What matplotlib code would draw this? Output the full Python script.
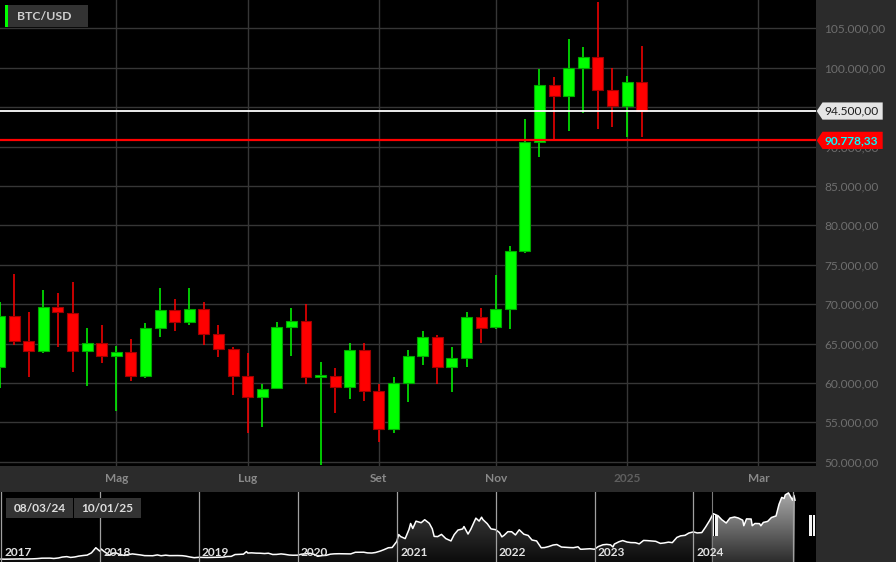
import numpy as np
import pandas as pd
import matplotlib
matplotlib.use("Agg")
import matplotlib.pyplot as plt
from matplotlib.patches import Rectangle, Polygon
from matplotlib.colors import LinearSegmentedColormap
import matplotlib.transforms as mtransforms

plt.rcParams['font.family'] = ['Lato', 'DejaVu Sans']

# ---------------- data ----------------
symbol = "BTC/USD"
opens = [62060, 68490, 65280, 64050, 69630, 68910, 64050, 65020, 63460, 63920,
         60830, 66930, 69250, 67770, 69340, 66210, 64260, 60880, 58250, 59310,
         67140, 67860, 60710, 60920, 59520, 64180, 58970, 54190, 60030, 63370,
         65870, 62060, 63160, 68360, 67050, 69340, 76700, 90610, 97760, 96450,
         99960, 101360, 97210, 95140, 98190]
highs = [70230, 73820, 68960, 71790, 71370, 72760, 66930, 67350, 64730, 65530,
         67560, 72000, 70610, 72000, 70230, 67310, 64510, 63750, 59820, 67770,
         69460, 69970, 62700, 61850, 65020, 65020, 59820, 60710, 64180, 66590,
         66040, 64510, 69000, 69460, 73650, 77370, 93450, 99840, 98860, 103600,
         102580, 108300, 99920, 98950, 102710]
lows = [59310, 64770, 60790, 63840, 64510, 61340, 59650, 62480, 56480, 60240,
        60580, 65870, 66630, 67310, 64850, 63330, 58420, 53600, 54360, 59310,
        63460, 59820, 49580, 56140, 57920, 57750, 52540, 53600, 57540, 62320,
        59820, 58890, 62060, 65020, 66880, 66800, 76530, 88710, 90830, 92010,
        94210, 92180, 92430, 91250, 91160]
closes = [68490, 65320, 64050, 69630, 68960, 64050, 65020, 63460, 63920, 60830,
          66930, 69250, 67770, 69340, 66250, 64260, 60920, 58250, 59230, 67140,
          67900, 60710, 60960, 59520, 64180, 59020, 54190, 60030, 63370, 65870,
          62060, 63160, 68360, 67010, 69340, 76700, 90600, 97760, 96450, 99920,
          101360, 97210, 95140, 98190, 94500]

x_tick_pos = [8, 17, 26, 34, 43, 52]
x_tick_labels = ["Mag", "Lug", "Set", "Nov", "2025", "Mar"]
y_ticks = list(range(50000, 105001, 5000))
last_price = 94500.00
ref_price = 90778.33
range_labels = ["08/03/24", "10/01/25"]
sel_start, sel_end = "2024-03-08", "2025-01-10"
year_labels = ["2017", "2018", "2019", "2020", "2021", "2022", "2023", "2024"]

nav_dates = [
    "2017-01-01", "2017-01-15", "2017-02-01", "2017-02-15", "2017-03-01", "2017-03-15",
    "2017-04-01", "2017-04-15", "2017-05-01", "2017-05-15", "2017-06-01", "2017-06-15",
    "2017-07-01", "2017-07-15", "2017-08-01", "2017-08-15", "2017-09-01", "2017-09-15",
    "2017-10-01", "2017-10-15", "2017-11-01", "2017-11-15", "2017-12-01", "2017-12-17",
    "2018-01-01", "2018-01-06", "2018-01-15", "2018-02-06", "2018-02-15", "2018-03-01",
    "2018-03-15", "2018-04-01", "2018-04-15", "2018-05-01", "2018-05-15", "2018-06-01",
    "2018-06-15", "2018-07-01", "2018-07-15", "2018-08-01", "2018-08-15", "2018-09-01",
    "2018-09-15", "2018-10-01", "2018-10-15", "2018-11-01", "2018-11-15", "2018-12-01",
    "2018-12-15", "2019-01-01", "2019-01-15", "2019-02-01", "2019-02-15", "2019-03-01",
    "2019-03-15", "2019-04-01", "2019-04-15", "2019-05-01", "2019-05-15", "2019-06-01",
    "2019-06-15", "2019-06-26", "2019-07-01", "2019-07-15", "2019-08-01", "2019-08-15",
    "2019-09-01", "2019-09-15", "2019-10-01", "2019-10-15", "2019-11-01", "2019-11-15",
    "2019-12-01", "2019-12-15", "2020-01-01", "2020-01-15", "2020-02-01", "2020-02-15",
    "2020-03-01", "2020-03-15", "2020-04-01", "2020-04-15", "2020-05-01", "2020-05-15",
    "2020-06-01", "2020-06-15", "2020-07-01", "2020-07-15", "2020-08-01", "2020-08-15",
    "2020-09-01", "2020-09-15", "2020-10-01", "2020-10-15", "2020-11-01", "2020-11-15",
    "2020-12-01", "2020-12-15", "2021-01-01", "2021-01-08", "2021-01-15", "2021-02-01",
    "2021-02-15", "2021-02-21", "2021-03-01", "2021-03-13", "2021-04-01", "2021-04-14",
    "2021-05-01", "2021-05-12", "2021-05-19", "2021-06-01", "2021-06-15", "2021-07-01",
    "2021-07-20", "2021-08-01", "2021-08-15", "2021-09-01", "2021-09-06", "2021-09-21",
    "2021-10-01", "2021-10-20", "2021-11-01", "2021-11-10", "2021-11-15", "2021-12-01",
    "2021-12-15", "2022-01-01", "2022-01-15", "2022-01-24", "2022-02-01", "2022-02-15",
    "2022-03-01", "2022-03-15", "2022-03-29", "2022-04-15", "2022-05-01", "2022-05-15",
    "2022-06-01", "2022-06-18", "2022-07-01", "2022-07-15", "2022-08-01", "2022-08-15",
    "2022-09-01", "2022-09-15", "2022-10-01", "2022-10-15", "2022-11-01", "2022-11-10",
    "2022-11-15", "2022-12-01", "2022-12-15", "2023-01-01", "2023-01-15", "2023-02-01",
    "2023-02-15", "2023-03-01", "2023-03-10", "2023-03-15", "2023-04-01", "2023-04-15",
    "2023-05-01", "2023-05-15", "2023-06-01", "2023-06-15", "2023-07-01", "2023-07-15",
    "2023-08-01", "2023-08-15", "2023-09-01", "2023-09-15", "2023-10-01", "2023-10-15",
    "2023-11-01", "2023-11-15", "2023-12-01", "2023-12-15", "2024-01-01", "2024-01-15",
    "2024-02-01", "2024-02-15", "2024-03-01", "2024-03-14", "2024-04-01", "2024-04-15",
    "2024-05-01", "2024-05-15", "2024-06-01", "2024-06-15", "2024-07-01", "2024-07-05",
    "2024-07-15", "2024-08-01", "2024-08-05", "2024-08-15", "2024-09-01", "2024-09-06",
    "2024-09-15", "2024-10-01", "2024-10-15", "2024-11-01", "2024-11-12", "2024-11-22",
    "2024-12-01", "2024-12-05", "2024-12-17", "2025-01-01", "2025-01-06", "2025-01-10"]
nav_values = [  # thousands USD
    1.0, 0.82, 0.99, 1.0, 1.2, 1.25,
    1.08, 1.18, 1.42, 1.75, 2.4, 2.45,
    2.5, 1.95, 2.75, 4.2, 4.9, 3.6,
    4.4, 5.7, 6.7, 7.3, 10.9, 19.0,
    13.5, 17.0, 13.6, 7.0, 10.2, 10.9,
    8.3, 6.9, 8.1, 9.2, 8.5, 7.5,
    6.5, 6.4, 6.3, 7.6, 6.3, 7.2,
    6.5, 6.6, 6.6, 6.4, 5.6, 4.2,
    3.2, 3.8, 3.6, 3.5, 3.6, 3.8,
    3.9, 4.1, 5.1, 5.3, 8.2, 8.5,
    8.8, 12.9, 10.6, 10.9, 10.4, 10.3,
    9.8, 10.3, 8.3, 8.4, 9.2, 8.5,
    7.4, 7.1, 7.2, 8.8, 9.4, 10.3,
    8.6, 5.4, 6.6, 6.9, 8.8, 9.3,
    9.5, 9.4, 9.2, 9.2, 11.8, 11.9,
    11.9, 10.8, 10.6, 11.5, 13.7, 16.0,
    19.0, 19.4, 29.0, 40.0, 36.8, 33.5,
    48.0, 57.5, 49.6, 61.2, 58.7, 63.5,
    57.8, 49.0, 37.0, 36.7, 40.2, 33.5,
    29.8, 39.9, 47.1, 48.8, 52.7, 40.7,
    48.2, 66.0, 61.3, 67.5, 63.7, 57.2,
    48.9, 47.7, 43.1, 36.3, 38.7, 44.5,
    44.4, 39.3, 47.5, 40.5, 38.5, 31.3,
    29.8, 19.0, 19.3, 20.8, 23.3, 24.1,
    20.1, 19.7, 19.3, 19.1, 20.5, 16.6,
    16.6, 17.1, 17.4, 16.6, 20.9, 23.7,
    24.3, 23.6, 20.2, 24.8, 28.5, 30.4,
    28.1, 27.2, 27.0, 25.1, 30.6, 30.3,
    29.7, 29.2, 25.9, 26.6, 27.9, 27.1,
    35.4, 37.9, 38.7, 42.3, 44.2, 42.5,
    43.1, 51.9, 62.4, 73.1, 69.7, 63.4,
    58.3, 66.2, 67.8, 66.2, 62.7, 54.0,
    64.8, 64.6, 54.0, 57.5, 57.3, 53.9,
    59.2, 60.8, 67.0, 69.5, 88.0, 98.9,
    97.3, 103.0, 106.1, 94.4, 102.2, 94.5]


def it_fmt(v):
    s = f"{v:,.2f}"
    return s.replace(",", "X").replace(".", ",").replace("X", ".")


# ---------------- figure ----------------
W, H = 896, 562
BG = '#2b2b2b'
fig = plt.figure(figsize=(W / 100, H / 100), dpi=100, facecolor=BG)


def fx(px):
    return px / W


def fy(py):
    return 1 - py / H


def fig_rect(x0, y0, x1, y1, color, z=5):
    r = Rectangle((fx(x0), fy(y1)), fx(x1) - fx(x0), fy(y0) - fy(y1),
                  transform=fig.transFigure, facecolor=color, edgecolor='none',
                  zorder=z)
    fig.add_artist(r)
    return r


# main price axes
MAIN_BOTTOM = 466
ax = fig.add_axes([0, fy(MAIN_BOTTOM), fx(816), MAIN_BOTTOM / H], facecolor='black')
ax.set_xlim(0.03, 55.95)
ax.set_ylim(49456, 108591)
for s in ax.spines.values():
    s.set_visible(False)

grid_c = '#363636'
for t in y_ticks:
    ax.axhline(t, color=grid_c, lw=1, zorder=0)
for p in x_tick_pos:
    ax.axvline(p, color=grid_c, lw=1, zorder=0)

ax.yaxis.tick_right()
ax.set_yticks(y_ticks)
ax.set_yticklabels([it_fmt(t) for t in y_ticks])
ax.tick_params(axis='y', length=0, pad=6, labelcolor='#6e6e6e', labelsize=8.6)
ax.set_xticks([])

xt = mtransforms.blended_transform_factory(ax.transData, ax.transAxes)
for p, lab in zip(x_tick_pos, x_tick_labels):
    col = '#5f5f5f' if lab.isdigit() else '#8a8a8a'
    ax.text(p, -13 / MAIN_BOTTOM, lab, transform=xt, ha='center', va='center',
            color=col, fontsize=8.6, fontweight='bold', clip_on=False)

# candles
o = np.array(opens, float)
h = np.array(highs, float)
l = np.array(lows, float)
c = np.array(closes, float)
idx = np.arange(len(o))
up = c >= o
fill = np.where(up, '#00ff00', '#ff0000')
edge = np.where(up, '#00a800', '#a00000')
ax.vlines(idx, l, h, colors=fill, lw=1.1, zorder=2)
ax.bar(idx, np.abs(c - o), bottom=np.minimum(o, c), width=0.75, color=fill,
       edgecolor=edge, linewidth=0.8, zorder=3)

# price lines
ax.axhline(last_price, color='white', lw=1.3, zorder=4)
ax.axhline(ref_price, color='#ff0000', lw=1.6, zorder=4)


# price tags on the right axis
def tag(price, face, txt_color, bold):
    y = ax.transData.transform((0, price))[1]
    py = H - y
    x_tip, x0, x1 = 816.7, 822.5, 882.7
    hh = 8.6
    verts = [(fx(x_tip), fy(py)), (fx(x0), fy(py - hh)), (fx(x1), fy(py - hh)),
             (fx(x1), fy(py + hh)), (fx(x0), fy(py + hh))]
    fig.add_artist(Polygon(verts, closed=True, transform=fig.transFigure,
                           facecolor=face, edgecolor='none', zorder=5))
    fig.text(fx(824.5), fy(py), it_fmt(price), color=txt_color, fontsize=8.6,
             fontweight='bold' if bold else 'normal', ha='left', va='center',
             zorder=6)


tag(last_price, '#e4e4e4', '#1c1c1c', False)
tag(ref_price, '#ff0000', '#00ffff', True)

# symbol label
fig_rect(5, 5, 87.7, 26.7, '#333333')
fig_rect(5, 5, 8, 26.7, '#00ff00', z=6)
fig.text(fx(17), fy(16), symbol, color='#cfcfcf', fontsize=8.8, fontweight='bold',
         ha='left', va='center', zorder=7)

# ---------------- navigator ----------------
NAV_TOP = 492
axn = fig.add_axes([0, 0, fx(816), (H - NAV_TOP) / H], facecolor='black')
for s in axn.spines.values():
    s.set_visible(False)
axn.set_xticks([])
axn.set_yticks([])

PXD = 0.2709   # pixels per day
PX0 = 1.0      # pixel of 2017-01-01
base = pd.Timestamp("2017-01-01")
nd = (pd.to_datetime(nav_dates) - base).days.values.astype(float)
nv = np.array(nav_values, float)
xmin, xmax = (0 - PX0) / PXD, (816 - PX0) / PXD
ylo, yhi = -3.65, 107.5
axn.set_xlim(xmin, xmax)
axn.set_ylim(ylo, yhi)

grad = np.linspace(1, 0, 256).reshape(-1, 1)

verts = [(nd[0], ylo)] + list(zip(nd, nv)) + [(nd[-1], ylo)]
clip_all = Polygon(verts, closed=True, facecolor='none', edgecolor='none',
                   transform=axn.transData)
axn.add_patch(clip_all)
cm_dark = LinearSegmentedColormap.from_list('d', ['#0c0c0c', '#4a4a4a'])
im1 = axn.imshow(grad, extent=[xmin, xmax, ylo, yhi], aspect='auto', cmap=cm_dark,
                 origin='upper', zorder=1, interpolation='bilinear')
im1.set_clip_path(clip_all)

s_d = (pd.Timestamp(sel_start) - base).days
e_d = (pd.Timestamp(sel_end) - base).days
m = (nd > s_d) & (nd < e_d)
sx = np.concatenate([[s_d], nd[m], [e_d]])
sy = np.concatenate([[np.interp(s_d, nd, nv)], nv[m], [np.interp(e_d, nd, nv)]])
verts_s = [(s_d, ylo)] + list(zip(sx, sy)) + [(e_d, ylo)]
clip_sel = Polygon(verts_s, closed=True, facecolor='none', edgecolor='none',
                   transform=axn.transData)
axn.add_patch(clip_sel)
cm_light = LinearSegmentedColormap.from_list('l', ['#2c2c2c', '#aaaaaa'])
im2 = axn.imshow(grad, extent=[xmin, xmax, ylo, yhi], aspect='auto', cmap=cm_light,
                 origin='upper', zorder=2, interpolation='bilinear')
im2.set_clip_path(clip_sel)

axn.plot(nd, nv, color='white', lw=1.1, zorder=3)
axn.axvline(s_d, color='#7c7c7c', lw=0.8, zorder=4)

nt = mtransforms.blended_transform_factory(axn.transData, axn.transAxes)
for yr in range(2017, 2026):
    d = (pd.Timestamp(f"{yr}-01-01") - base).days
    axn.axvline(d, color='#a0a0a0', lw=0.9, zorder=4)
for lab in year_labels:
    d = (pd.Timestamp(f"{lab}-01-01") - base).days
    axn.text(d + 3.2 / PXD, (H - 552) / (H - NAV_TOP), lab, transform=nt,
             color='#e2e2e2', fontsize=8.6, fontweight='bold', ha='left',
             va='center', zorder=6)

# handles
for hx in (712.7, 809.3):
    fig_rect(hx, 515.3, hx + 5.2, 536.3, '#f4f4f4', z=6)
    fig_rect(hx + 1.5, 515.3, hx + 2.1, 536.3, '#000000', z=7)
    fig_rect(hx + 3.1, 515.3, hx + 3.7, 536.3, '#000000', z=7)

# range labels
for (x0, x1), lab in zip([(6, 72.7), (74, 140.7)], range_labels):
    fig_rect(x0, 498.3, x1, 518, '#333333', z=6)
    fig.text(fx((x0 + x1) / 2), fy(508.3), lab, color='#dedede', fontsize=8.6,
             fontweight='bold', ha='center', va='center', zorder=7)

fig.savefig("out.png", dpi=100, facecolor=BG)
